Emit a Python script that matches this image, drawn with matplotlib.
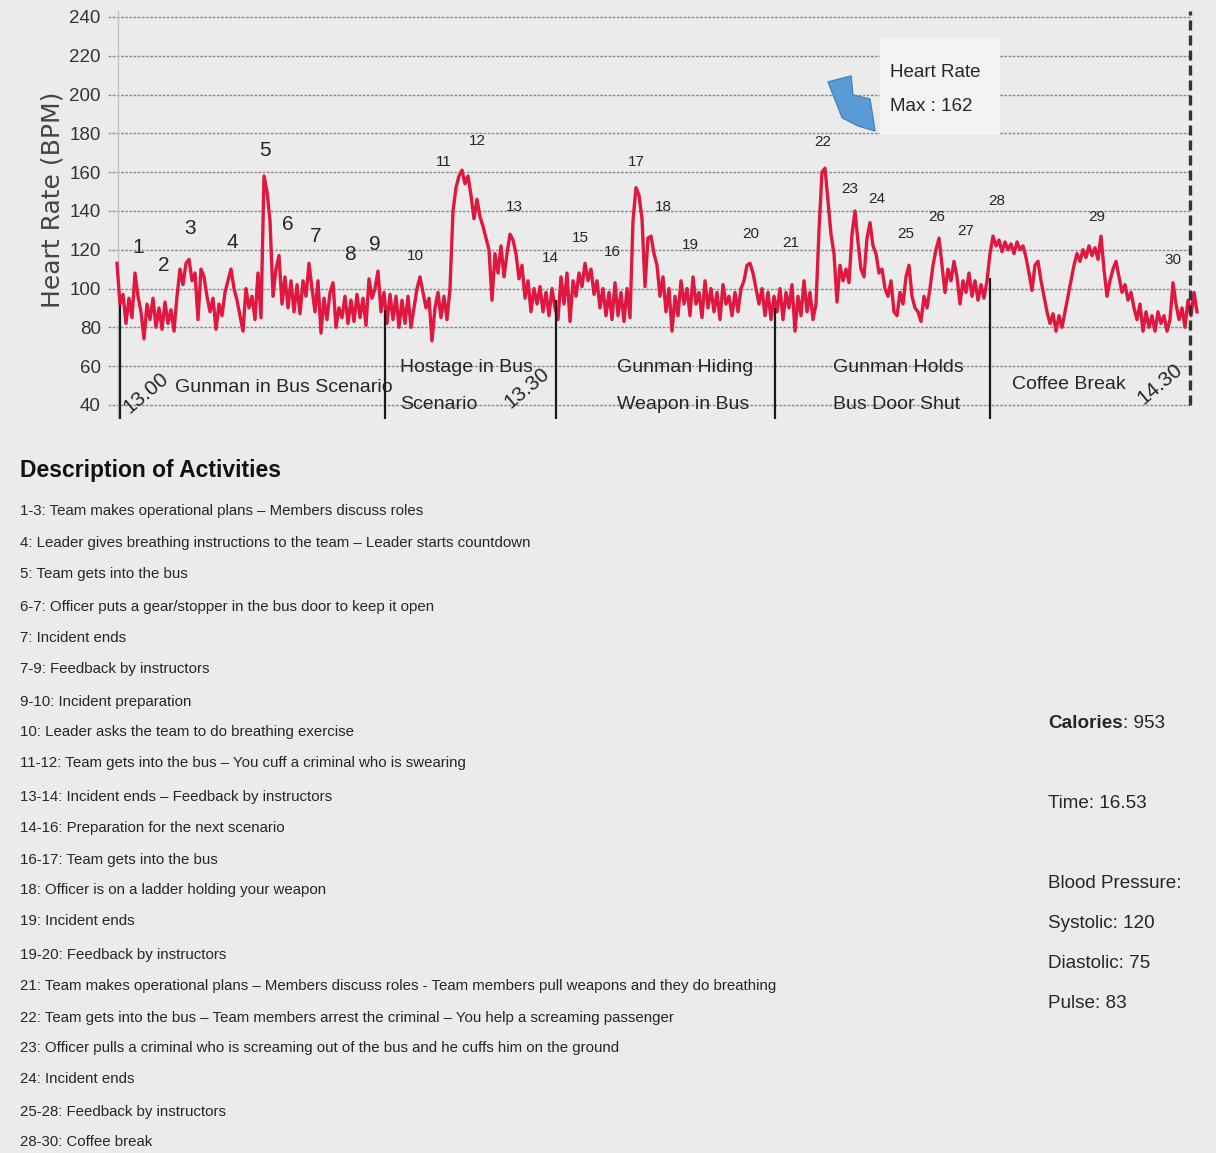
import numpy as np
import matplotlib.pyplot as plt
from matplotlib import font_manager
from matplotlib.patches import Polygon, Rectangle
from matplotlib.text import Annotation

names = {f.name for f in font_manager.fontManager.ttflist}
NARROW = 'Liberation Sans Narrow' if 'Liberation Sans Narrow' in names else 'Liberation Sans'
FONT = [NARROW, 'DejaVu Sans']

# heart rate (BPM), one reading per sample step
hr = [
    113, 92, 97, 82, 95, 85, 108, 96, 88, 74, 92, 84, 95, 80, 90, 79, 93, 82, 89, 78,
    96, 110, 102, 113, 115, 104, 108, 84, 110, 106, 96, 88, 95, 79, 92, 86, 98, 104, 110, 100,
    94, 86, 78, 100, 90, 96, 84, 108, 85, 158, 150, 135, 96, 110, 117, 92, 106, 90, 104, 88,
    102, 87, 104, 96, 113, 100, 88, 104, 77, 95, 84, 98, 103, 80, 90, 85, 96, 82, 94, 83,
    97, 85, 95, 81, 105, 95, 100, 109, 88, 98, 82, 97, 84, 96, 80, 94, 82, 96, 80, 90,
    100, 106, 98, 90, 95, 73, 90, 98, 85, 96, 84, 100, 140, 152, 158, 161, 154, 158, 148, 136,
    146, 137, 132, 126, 120, 94, 118, 108, 122, 106, 118, 128, 125, 118, 105, 112, 95, 104, 88, 100,
    92, 101, 88, 98, 86, 100, 90, 84, 106, 92, 108, 83, 104, 96, 108, 101, 113, 104, 110, 97,
    104, 90, 100, 86, 98, 84, 103, 86, 98, 83, 100, 85, 135, 152, 148, 136, 101, 126, 127, 118,
    112, 96, 106, 88, 100, 78, 96, 86, 104, 92, 100, 86, 106, 92, 98, 85, 104, 90, 100, 88,
    98, 84, 102, 92, 96, 86, 98, 88, 100, 104, 112, 113, 108, 100, 92, 100, 86, 98, 84, 96,
    88, 100, 84, 98, 90, 102, 78, 96, 86, 104, 88, 98, 84, 92, 130, 160, 162, 145, 128, 118,
    93, 112, 104, 110, 103, 128, 140, 124, 110, 106, 126, 134, 122, 118, 108, 110, 100, 96, 104, 88,
    86, 98, 92, 106, 112, 96, 90, 88, 83, 96, 90, 100, 112, 120, 126, 112, 98, 110, 104, 114,
    106, 92, 104, 98, 108, 96, 104, 94, 102, 95, 104, 118, 127, 122, 125, 119, 124, 120, 123, 118,
    124, 120, 122, 116, 108, 99, 112, 114, 104, 96, 88, 82, 87, 78, 86, 80, 88, 96, 104, 112,
    118, 114, 120, 116, 122, 117, 121, 115, 127, 110, 96, 104, 110, 114, 106, 98, 102, 94, 98, 90,
    84, 92, 78, 88, 80, 86, 78, 88, 82, 86, 78, 84, 103, 92, 84, 90, 80, 94, 86, 98, 88,
]

# event numbers and where their labels sit (sample index, BPM)
event_ids = [str(i) for i in range(1, 31)]
event_x = [7, 15.7, 24.3, 38.3, 49.3, 57, 66.3, 77.7, 86, 99.3,
           109, 120, 132.3, 144.3, 154.3, 165, 173, 182, 191, 211.3,
           224.7, 235.3, 244.3, 253.3, 263, 273.3, 283, 293.3, 326.7, 352]
event_y = [121, 112, 131, 123.5, 171.4, 133, 126.6, 117.3, 122.5, 116.8,
           165.3, 176, 142, 115.8, 126, 119, 165.3, 142, 122.5, 128,
           123.5, 175.6, 151.3, 146.2, 128, 137, 129.7, 145, 137, 114.7]

# scenario boundaries (sample index) and how high each marker line reaches
bound_x = [1, 89.3, 146.3, 219.3, 291]
bound_top = [91.5, 89, 94, 90, 105.5]
end_x = 357.7

scenarios = ['Gunman in Bus Scenario', 'Hostage in Bus\nScenario', 'Gunman Hiding\nWeapon in Bus',
             'Gunman Holds\nBus Door Shut', 'Coffee Break']
scenario_x = [19.3, 94.3, 166.7, 238.7, 298.3]
times = ['13.00', '13.30', '14.30']
time_x = [9.5, 136.5, 347.5]
time_y = [46.0, 48.5, 51.0]

activities = [
    '1-3: Team makes operational plans \u2013 Members discuss roles',
    '4: Leader gives breathing instructions to the team \u2013 Leader starts countdown',
    '5: Team gets into the bus',
    '6-7: Officer puts a gear/stopper in the bus door to keep it open',
    '7: Incident ends',
    '7-9: Feedback by instructors',
    '9-10: Incident preparation',
    '10: Leader asks the team to do breathing exercise',
    '11-12: Team gets into the bus \u2013 You cuff a criminal who is swearing',
    '13-14: Incident ends \u2013 Feedback by instructors',
    '14-16: Preparation for the next scenario',
    '16-17: Team gets into the bus',
    '18: Officer is on a ladder holding your weapon',
    '19: Incident ends',
    '19-20: Feedback by instructors',
    '21: Team makes operational plans \u2013 Members discuss roles - Team members pull weapons and they do breathing',
    '22: Team gets into the bus \u2013 Team members arrest the criminal \u2013 You help a screaming passenger',
    '23: Officer pulls a criminal who is screaming out of the bus and he cuffs him on the ground',
    '24: Incident ends',
    '25-28: Feedback by instructors',
    '28-30: Coffee break',
]
activity_y = [511, 543, 574, 607, 638, 669, 702, 732, 763, 797, 828,
              860, 890, 921, 955, 986, 1018, 1048, 1079, 1112, 1142]

W, H = 1216, 1153
BG = '#ebebeb'
RED = '#e0173f'
INK = '#262626'

fig = plt.figure(figsize=(W / 100, H / 100), dpi=100, facecolor=BG)

def fx(px):
    return px / W

def fy(py):
    return 1 - py / H

# chart axes: 3 px per sample, 1.94 px per BPM
ax = fig.add_axes([fx(105), fy(418.5), 1095 / W, 407.4 / H])
ax.set_facecolor(BG)
ax.set_xlim(-4, 361)
ax.set_ylim(33, 243)
for s in ax.spines.values():
    s.set_visible(False)
ax.set_xticks([])
ax.set_yticks(range(40, 241, 20))
ax.tick_params(axis='y', length=0, pad=3, labelsize=13.5, labelcolor='#333333')
for lab in ax.get_yticklabels():
    lab.set_fontfamily(FONT)

ax.hlines(range(40, 241, 20), -3, end_x, colors='#8c8c8c', linestyles=(0, (2, 1)), lw=1, zorder=1)
ax.axvline(0.3, color='#c4c4c4', lw=1, zorder=1)

x = np.arange(len(hr))
ax.plot(x, hr, color=RED, lw=2.4, zorder=3)

ax.vlines(bound_x, 33, bound_top, colors='#1a1a1a', lw=1.6, zorder=4)
ax.vlines(end_x, 40, 243, colors='#333333', lw=2.4, linestyles=(0, (3, 1.5)), zorder=4)

for i, (lab, ex, ey) in enumerate(zip(event_ids, event_x, event_y)):
    size = 15 if i < 9 else 11
    ax.text(ex, ey, lab, ha='center', va='center', fontsize=size, family=FONT, color=INK, zorder=5)

for lab, sx in zip(scenarios, scenario_x):
    if '\n' in lab:
        top, bot = lab.split('\n')
        ax.text(sx, 59.1, top, ha='left', va='center', fontsize=14, family=FONT, color=INK)
        ax.text(sx, 40, bot, ha='left', va='center', fontsize=14, family=FONT, color=INK)
    else:
        ax.text(sx, 48.8 if sx < 100 else 50.3, lab, ha='left', va='center', fontsize=14, family=FONT, color=INK)

for lab, tx, ty in zip(times, time_x, time_y):
    ax.text(tx, ty, lab, ha='center', va='center', fontsize=15, family=FONT, color=INK, rotation=40)

ax.add_patch(Rectangle((254.3, 179), 40, 50, facecolor='#f3f3f3', edgecolor='none', zorder=2))
ax.text(257.7, 211.6, 'Heart Rate', ha='left', va='center', fontsize=13.5, family=FONT, color=INK, zorder=5)
ax.text(257.7, 193.6, 'Max : 162', ha='left', va='center', fontsize=13.5, family=FONT, color=INK, zorder=5)
arrow = [(237, 206.5), (244.7, 209.6), (245.3, 199.8), (251, 197.7), (252.7, 181.2), (247, 183.8), (241.7, 188)]
ax.add_patch(Polygon(arrow, closed=True, facecolor='#5b9bd5', edgecolor='#4a84bb', lw=1, zorder=5))

ax.set_ylabel('Heart Rate (BPM)', fontsize=18, color='#444444', family='DejaVu Sans')
ax.yaxis.set_label_coords(-0.037, 0.536)

# description block
fig.text(fx(20), fy(470), 'Description of Activities', ha='left', va='center',
         fontsize=16.5, weight='bold', family=FONT, color='#111111')
for line, ly in zip(activities, activity_y):
    fig.text(fx(20), fy(ly), line, ha='left', va='center', fontsize=10.8, family=FONT, color=INK)

cal = fig.text(fx(1048), fy(724), 'Calories', ha='left', va='center', fontsize=13.6,
               weight='bold', family=FONT, color=INK)
fig.add_artist(Annotation(': 953', xy=(1, 0.5), xycoords=cal, ha='left', va='center',
                          fontsize=13.6, family=FONT, color=INK))
stats = ['Time: 16.53', 'Blood Pressure:', 'Systolic: 120', 'Diastolic: 75', 'Pulse: 83']
stats_y = [803, 884, 924, 964, 1003]
for s, sy in zip(stats, stats_y):
    fig.text(fx(1048), fy(sy), s, ha='left', va='center', fontsize=13.6, family=FONT, color=INK)

fig.savefig('out.png', dpi=100, facecolor=BG)
